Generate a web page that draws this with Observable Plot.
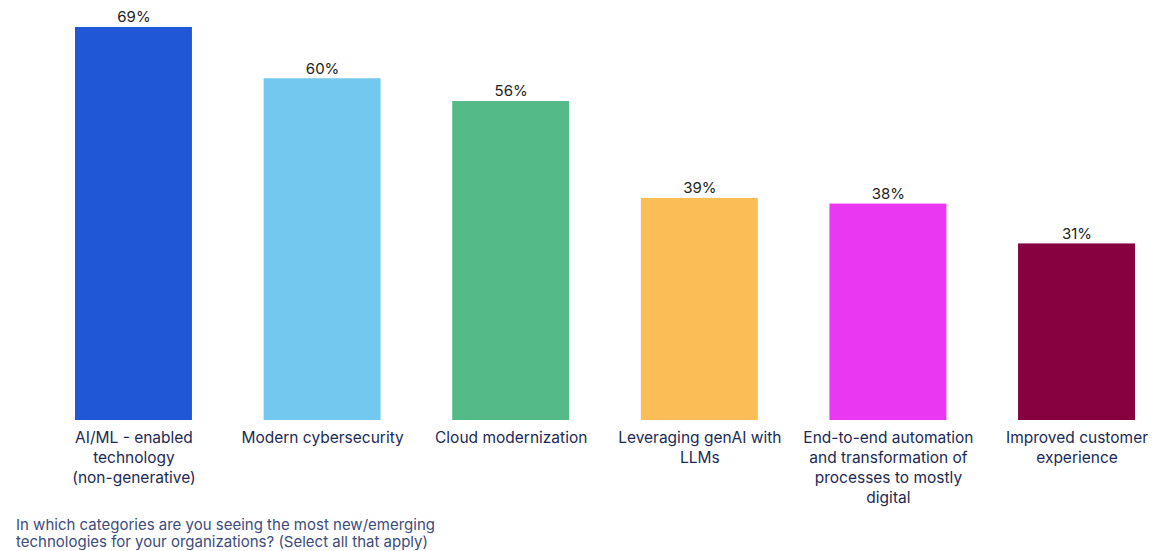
<!DOCTYPE html>
<html>
<head>
<meta charset="utf-8">
<script src="https://cdn.jsdelivr.net/npm/d3@7"></script>
<script src="https://cdn.jsdelivr.net/npm/@observablehq/plot@0.6"></script>
<style>
  body { margin: 0; background: #fff; font-family: "Inter", "Lato", sans-serif; }
  #chart { width: 1164px; height: 512px; }
  #chart svg { display: block; }
  #caption { margin: 4px 0 0 16px; font-size: 15px; line-height: 17px; color: #3d4c7c; }
</style>
</head>
<body>
<div id="chart"></div>
<div id="caption">In which categories are you seeing the most new/emerging<br>technologies for your organizations? (Select all that apply)</div>
<script>
const categories = [
  "AI/ML - enabled\ntechnology\n(non-generative)",
  "Modern cybersecurity",
  "Cloud modernization",
  "Leveraging genAI with\nLLMs",
  "End-to-end automation\nand transformation of\nprocesses to mostly\ndigital",
  "Improved customer\nexperience"
];
const values = [69, 60, 56, 39, 38, 31];
const colors = ["#1f57d6", "#72c8ef", "#54ba87", "#fbbe57", "#ea38f2", "#870040"];

const data = categories.map((c, i) => ({category: c, value: values[i], color: colors[i]}));

const chart = Plot.plot({
  width: 1164,
  height: 512,
  marginLeft: 75,
  marginRight: 29,
  marginTop: 27,
  marginBottom: 92,
  style: {fontFamily: "Inter, Lato, sans-serif", background: "#fff"},
  x: {domain: categories, paddingInner: 0.38, paddingOuter: 0, round: false, label: null},
  y: {domain: [0, 69], axis: null},
  marks: [
    Plot.barY(data, {x: "category", y: "value", fill: "color"}),
    Plot.text(data, {x: "category", y: "value", text: d => d.value + "%", dy: -10, fontSize: 15, fill: "#222"}),
    Plot.axisX({tickSize: 0, tickPadding: 8, fontSize: 15.5, lineHeight: 1.29, lineAnchor: "top", color: "#1b2a55", label: null})
  ]
});
document.getElementById("chart").appendChild(chart);
</script>
</body>
</html>
